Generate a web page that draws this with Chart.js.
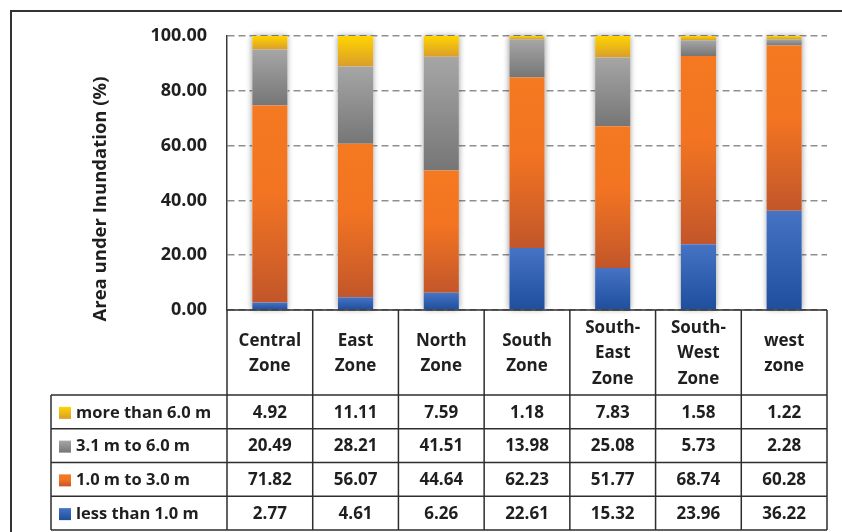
<!DOCTYPE html>
<html>
<head>
<meta charset="utf-8">
<title>Area under Inundation</title>
<script src="https://cdn.jsdelivr.net/npm/chart.js"></script>
<style>
  html, body { margin: 0; padding: 0; background: #fff; }
  #wrap { width: 842px; height: 532px; }
</style>
</head>
<body>
<div id="wrap"><canvas id="inundationChart" width="842" height="532"></canvas></div>
<script>
// === DATA ===
const zones = [
    ['Central', 'Zone'], ['East', 'Zone'], ['North', 'Zone'], ['South', 'Zone'],
    ['South-', 'East', 'Zone'], ['South-', 'West', 'Zone'], ['west', 'zone']
];
const lessThan1 = [2.77, 4.61, 6.26, 22.61, 15.32, 23.96, 36.22];
const from1to3  = [71.82, 56.07, 44.64, 62.23, 51.77, 68.74, 60.28];
const from3to6  = [20.49, 28.21, 41.51, 13.98, 25.08, 5.73, 2.28];
const moreThan6 = [4.92, 11.11, 7.59, 1.18, 7.83, 1.58, 1.22];
const seriesLabels = ['less than 1.0 m', '1.0 m to 3.0 m', '3.1 m to 6.0 m', 'more than 6.0 m'];
const seriesData = [lessThan1, from1to3, from3to6, moreThan6];
const yTicks = [0, 20, 40, 60, 80, 100];

// vertical gradient per segment, light on top -> darker at the bottom
const gradStops = [
    [[0, '#4673C4'], [1, '#1F4E9E']],
    [[0, '#F47920'], [0.45, '#F27422'], [1, '#C2562A']],
    [[0, '#A6A6A6'], [1, '#767676']],
    [[0, '#FFD400'], [1, '#D99E2B']]
];

const FONT = '"Open Sans", Lato, sans-serif';
const INK = '#1f1f1f';
const LINE = '#2e2e2e';

function segmentFill(context) {
    const chart = context.chart;
    const stops = gradStops[context.datasetIndex];
    const yScale = chart.scales.y;
    if (!chart.chartArea || !yScale || context.type !== 'data') return stops[0][1];
    const i = context.dataIndex;
    let base = 0;
    for (let d = 0; d < context.datasetIndex; d++) base += seriesData[d][i];
    const top = yScale.getPixelForValue(base + seriesData[context.datasetIndex][i]);
    const bottom = yScale.getPixelForValue(base);
    const g = chart.ctx.createLinearGradient(0, top, 0, bottom);
    stops.forEach(s => g.addColorStop(s[0], s[1]));
    return g;
}

// === SOFT SHADOW BEHIND EACH STACK ===
const barShadow = {
    id: 'barShadow',
    beforeDatasetsDraw(chart) {
        const ctx = chart.ctx;
        const bottomMeta = chart.getDatasetMeta(0);
        const topMeta = chart.getDatasetMeta(chart.data.datasets.length - 1);
        ctx.save();
        ctx.fillStyle = '#fff';
        ctx.shadowColor = 'rgba(0,0,0,0.4)';
        ctx.shadowBlur = 6;
        bottomMeta.data.forEach((bar, i) => {
            const top = topMeta.data[i];
            ctx.fillRect(bar.x - bar.width / 2, top.y, bar.width, bar.base - top.y);
        });
        ctx.restore();
    }
};

// === DATA TABLE, AXIS TITLE AND FRAME ===
const dataTable = {
    id: 'dataTable',
    afterDraw(chart) {
        const ctx = chart.ctx;
        const area = chart.chartArea;
        const xScale = chart.scales.x;
        const n = zones.length;
        const colW = (area.right - area.left) / n;
        const headTop = area.bottom;
        const headBottom = 395;
        const rowH = 33.75;
        const tableLeft = 51;
        const tableBottom = headBottom + rowH * seriesData.length;

        ctx.save();

        // outer frame (top and left edges)
        ctx.strokeStyle = '#333';
        ctx.lineWidth = 2;
        ctx.beginPath();
        ctx.moveTo(842, 11); ctx.lineTo(11, 11); ctx.lineTo(11, 532);
        ctx.stroke();

        // grid of the table
        ctx.strokeStyle = LINE;
        ctx.lineWidth = 1.5;
        ctx.beginPath();
        ctx.moveTo(area.left, headTop); ctx.lineTo(area.right, headTop);
        for (let r = 0; r <= seriesData.length; r++) {
            const y = headBottom + r * rowH;
            ctx.moveTo(tableLeft, y); ctx.lineTo(area.right, y);
        }
        for (let c = 0; c <= n; c++) {
            const x = area.left + c * colW;
            ctx.moveTo(x, headTop); ctx.lineTo(x, tableBottom);
        }
        ctx.moveTo(tableLeft, headBottom); ctx.lineTo(tableLeft, tableBottom);
        ctx.stroke();

        // category headers
        ctx.fillStyle = INK;
        ctx.font = 'bold 17px ' + FONT;
        ctx.textAlign = 'center';
        ctx.textBaseline = 'middle';
        const lineGap = 25.5;
        zones.forEach((lines, i) => {
            const cx = xScale.getPixelForValue(i);
            const cy = (headTop + headBottom) / 2 + 1;
            lines.forEach((txt, k) => {
                ctx.fillText(txt, cx, cy + (k - (lines.length - 1) / 2) * lineGap);
            });
        });

        // rows: top series first
        for (let r = 0; r < seriesData.length; r++) {
            const d = seriesData.length - 1 - r;
            const cy = headBottom + r * rowH + rowH / 2 + 1;
            const g = ctx.createLinearGradient(0, cy - 6, 0, cy + 6);
            gradStops[d].forEach(s => g.addColorStop(s[0], s[1]));
            ctx.fillStyle = g;
            ctx.fillRect(59, cy - 6, 12, 12);

            ctx.fillStyle = INK;
            ctx.textAlign = 'left';
            ctx.font = 'bold 16.5px ' + FONT;
            ctx.fillText(seriesLabels[d], 76, cy);
            ctx.textAlign = 'center';
            ctx.font = 'bold 17px ' + FONT;
            seriesData[d].forEach((v, i) => {
                ctx.fillText(v.toFixed(2), xScale.getPixelForValue(i), cy);
            });
        }

        // y axis title
        ctx.font = 'bold 18.5px ' + FONT;
        ctx.translate(101, 199);
        ctx.rotate(-Math.PI / 2);
        ctx.textAlign = 'center';
        ctx.fillText('Area under Inundation (%)', 0, 0);

        ctx.restore();
    }
};

// === CHART ===
const ctx = document.getElementById('inundationChart').getContext('2d');
new Chart(ctx, {
    type: 'bar',
    data: {
        labels: zones.map(z => z.join(' ')),
        datasets: seriesData.map((data, d) => ({
            label: seriesLabels[d],
            data: data,
            backgroundColor: segmentFill,
            borderWidth: 0,
            barPercentage: 0.41,
            categoryPercentage: 1
        }))
    },
    options: {
        responsive: false,
        animation: false,
        layout: { padding: { top: 36, right: 15, bottom: 222, left: 0 } },
        plugins: {
            legend: { display: false },
            tooltip: { enabled: false }
        },
        scales: {
            x: { stacked: true, display: false },
            y: {
                stacked: true,
                min: 0,
                max: 100,
                afterBuildTicks: scale => { scale.ticks = yTicks.map(v => ({ value: v })); },
                afterFit: scale => { scale.width = 227; },
                ticks: {
                    padding: 20,
                    color: INK,
                    font: { family: FONT, size: 18, weight: 'bold' },
                    callback: v => v.toFixed(2)
                },
                grid: { color: '#8f8f8f', lineWidth: 1.5, drawTicks: false },
                border: { display: true, color: '#3a3a3a', width: 1.5, dash: [7, 4] }
            }
        }
    },
    plugins: [barShadow, dataTable]
});
</script>
</body>
</html>
